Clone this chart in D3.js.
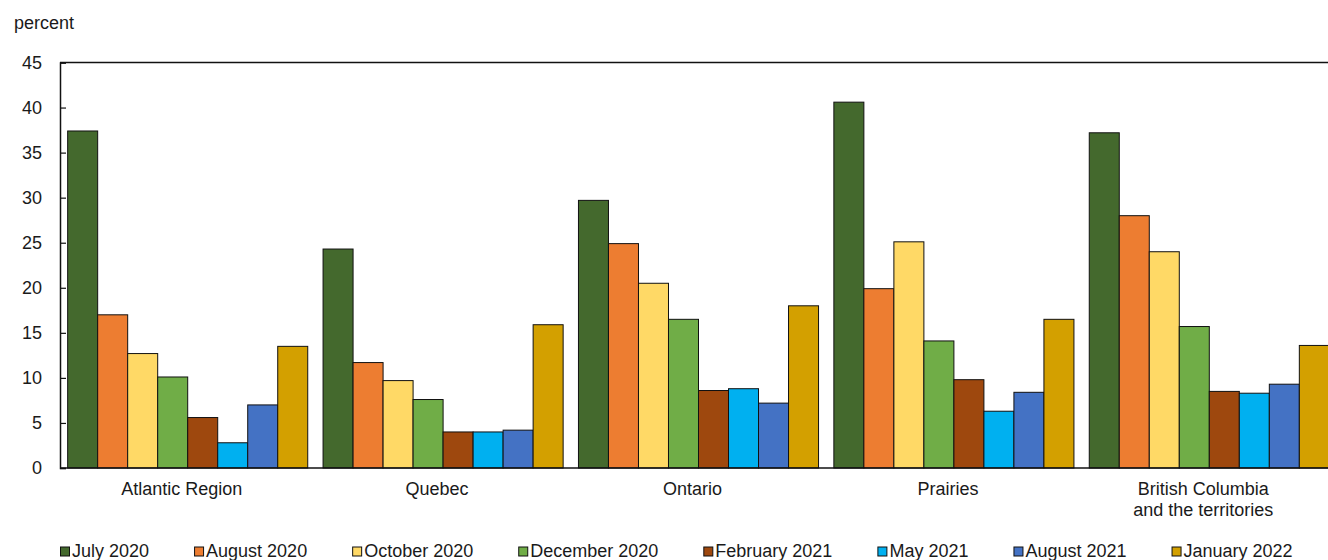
<!DOCTYPE html>
<html>
<head>
<meta charset="utf-8">
<script src="https://cdn.jsdelivr.net/npm/d3@7"></script>
<style>
  html, body { margin: 0; padding: 0; background: #fff; }
  svg { display: block; }
  text { font-family: "Liberation Sans", Arial, sans-serif; fill: #1a1a1a; }
</style>
</head>
<body>
<svg id="chart" width="1328" height="560"></svg>
<script>
const regions = ["Atlantic Region", "Quebec", "Ontario", "Prairies", "British Columbia\nand the territories"];
const seriesNames = ["July 2020", "August 2020", "October 2020", "December 2020", "February 2021", "May 2021", "August 2021", "January 2022"];
const seriesColors = ["#44692D", "#ED7D31", "#FFD966", "#70AD47", "#9E480E", "#00B0F0", "#4472C4", "#D3A000"];
const july2020 = [37.4, 24.3, 29.7, 40.6, 37.2];
const august2020 = [17.0, 11.7, 24.9, 19.9, 28.0];
const october2020 = [12.7, 9.7, 20.5, 25.1, 24.0];
const december2020 = [10.1, 7.6, 16.5, 14.1, 15.7];
const february2021 = [5.6, 4.0, 8.6, 9.8, 8.5];
const may2021 = [2.8, 4.0, 8.8, 6.3, 8.3];
const august2021 = [7.0, 4.2, 7.2, 8.4, 9.3];
const january2022 = [13.5, 15.9, 18.0, 16.5, 13.6];
const yTicks = [0, 5, 10, 15, 20, 25, 30, 35, 40, 45];
const yLabel = "percent";

const seriesValues = [july2020, august2020, october2020, december2020, february2021, may2021, august2021, january2022];

(function () {
const svg = d3.select("#chart");
const mLeft = 60, mRight = 1337, mTop = 62.5, mBottom = 468;

const x0 = d3.scaleBand().domain(regions).range([mLeft, mRight]).paddingInner(0.06).paddingOuter(0.03);
const x1 = d3.scaleBand().domain(seriesNames).range([0, x0.bandwidth()]);
const y = d3.scaleLinear().domain([0, 45]).range([mBottom, mTop]);

// Bars
const groups = svg.append("g").selectAll("g")
  .data(regions)
  .join("g")
  .attr("transform", d => `translate(${x0(d)},0)`);

groups.selectAll("rect")
  .data((d, i) => seriesNames.map((s, j) => ({ s, j, v: seriesValues[j][i] })))
  .join("rect")
  .attr("x", d => x1(d.s))
  .attr("y", d => y(d.v))
  .attr("width", x1.bandwidth())
  .attr("height", d => y(0) - y(d.v))
  .attr("fill", d => seriesColors[d.j])
  .attr("stroke", "#111")
  .attr("stroke-width", 1);

// Y axis
const yAxis = d3.axisLeft(y).tickValues(yTicks).tickSize(-6).tickPadding(18).tickFormat(d3.format("d"));
const ya = svg.append("g").attr("transform", `translate(${mLeft},0)`).call(yAxis);
ya.select(".domain").attr("stroke", "#111").attr("stroke-width", 1.5);
ya.selectAll(".tick line").attr("stroke", "#111").attr("stroke-width", 1.2);
ya.selectAll(".tick text").attr("font-size", 18).attr("fill", "#1a1a1a").attr("font-family", "Liberation Sans, Arial, sans-serif");

// Top frame line
svg.append("line").attr("x1", mLeft).attr("x2", 1328).attr("y1", mTop).attr("y2", mTop)
  .attr("stroke", "#111").attr("stroke-width", 1.5);
// Baseline
svg.append("line").attr("x1", mLeft).attr("x2", 1328).attr("y1", mBottom).attr("y2", mBottom)
  .attr("stroke", "#111").attr("stroke-width", 1.5);

// Category labels
const catLabels = svg.append("g").selectAll("text")
  .data(regions)
  .join("text")
  .attr("x", d => x0(d) + x0.bandwidth() / 2 - 6)
  .attr("y", 495)
  .attr("text-anchor", "middle")
  .attr("font-size", 18);
catLabels.each(function(d) {
  const lines = d.split("\n");
  const cx = d3.select(this).attr("x");
  d3.select(this).selectAll("tspan").data(lines).join("tspan")
    .attr("x", cx)
    .attr("dy", (l, i) => i === 0 ? 0 : 21)
    .text(l => l);
});

// Y label
svg.append("text").attr("x", 14).attr("y", 29).attr("font-size", 18).text(yLabel);

// Legend
const legend = svg.append("g");
let lx = 60;
seriesNames.forEach((name, i) => {
  const g = legend.append("g");
  g.append("rect").attr("x", lx + 0.5).attr("y", 547).attr("width", 9).attr("height", 9)
    .attr("fill", seriesColors[i]).attr("stroke", "#111").attr("stroke-width", 1);
  const t = g.append("text").attr("x", lx + 12).attr("y", 557).attr("font-size", 18).text(name);
  const w = t.node().getComputedTextLength();
  lx = lx + 12 + w + 45;
});
})();
</script>
</body>
</html>
